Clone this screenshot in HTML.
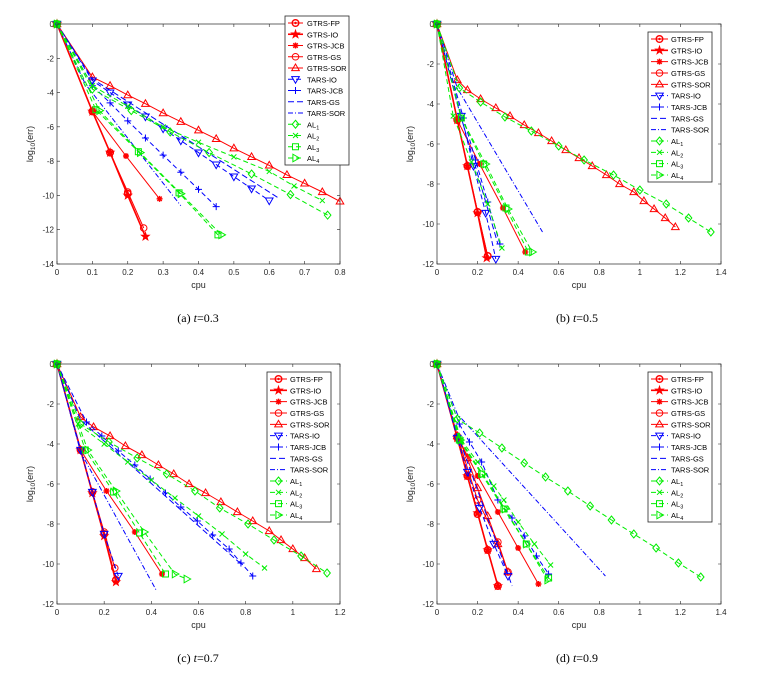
<!DOCTYPE html>
<html><head><meta charset="utf-8">
<style>
html,body{margin:0;padding:0;background:#fff;}
svg{display:block;font-family:"Liberation Sans",sans-serif;}
</style></head>
<body>
<svg id="fig" width="770" height="675" viewBox="0 0 770 675" xmlns="http://www.w3.org/2000/svg"></svg>
<script>
// ---------- Data (cpu, log10(err)) ----------
const a_fp=[[0,0],[0.1,-5.1],[0.15,-7.5],[0.2,-9.9]];
const a_io=[[0,0],[0.1,-5.1],[0.15,-7.5],[0.2,-10],[0.25,-12.4]];
const a_jcb=[[0,0],[0.1,-5.1],[0.195,-7.7],[0.29,-10.2]];
const a_gs=[[0,0],[0.1,-5.1],[0.15,-7.5],[0.2,-9.8],[0.245,-11.9]];
const a_sor=[[0,0],[0.1,-3.1],[0.15,-3.6],[0.2,-4.15],[0.25,-4.65],[0.3,-5.2],[0.35,-5.7],[0.4,-6.2],[0.45,-6.7],[0.5,-7.25],[0.55,-7.75],[0.6,-8.25],[0.65,-8.8],[0.7,-9.3],[0.75,-9.8],[0.8,-10.35]];
const a_tio=[[0,0],[0.1,-3.3],[0.15,-4.0],[0.2,-4.7],[0.25,-5.4],[0.3,-6.1],[0.35,-6.8],[0.4,-7.5],[0.45,-8.2],[0.5,-8.9],[0.55,-9.6],[0.6,-10.3]];
const a_tjcb=[[0,0],[0.1,-3.6],[0.15,-4.6],[0.2,-5.65],[0.25,-6.65],[0.3,-7.65],[0.35,-8.65],[0.4,-9.65],[0.45,-10.65]];
const a_tgs=[[0,0],[0.1,-3.2],[0.63,-10.2]];
const a_tsor=[[0,0],[0.08,-3.5],[0.35,-10.6]];
const a_al1=[[0,0],[0.1,-3.8],[0.21,-5.05],[0.32,-6.3],[0.43,-7.5],[0.55,-8.75],[0.66,-9.95],[0.765,-11.15]];
const a_al2=[[0,0],[0.1,-3.6],[0.2,-4.8],[0.3,-6.0],[0.4,-6.9],[0.5,-7.75],[0.6,-8.6],[0.67,-9.45],[0.75,-10.3]];
const a_al3=[[0,0],[0.11,-5.0],[0.23,-7.45],[0.345,-9.85],[0.455,-12.3]];
const a_al4=[[0,0],[0.12,-5.05],[0.235,-7.5],[0.35,-9.9],[0.465,-12.3]];

const b_fp=[[0,0],[0.1,-4.8],[0.15,-7.1],[0.2,-9.4],[0.25,-11.6]];
const b_io=[[0,0],[0.1,-4.8],[0.15,-7.1],[0.2,-9.45],[0.245,-11.7]];
const b_jcb=[[0,0],[0.1,-4.8],[0.21,-7.0],[0.325,-9.2],[0.435,-11.4]];
const b_gs=[[0,0],[0.1,-4.8],[0.15,-7.1],[0.2,-9.4],[0.25,-11.6]];
const b_sor=[[0,0],[0.1,-2.8],[0.15,-3.3],[0.215,-3.75],[0.29,-4.2],[0.36,-4.6],[0.43,-5.05],[0.5,-5.45],[0.565,-5.85],[0.635,-6.3],[0.7,-6.7],[0.765,-7.1],[0.835,-7.55],[0.9,-8.0],[0.97,-8.4],[1.02,-8.85],[1.07,-9.25],[1.125,-9.7],[1.175,-10.15]];
const b_tio=[[0,0],[0.12,-4.6],[0.18,-7.1],[0.24,-9.45],[0.29,-11.75]];
const b_tjcb=[[0,0],[0.13,-4.7],[0.19,-6.8],[0.25,-8.9],[0.31,-11.0]];
const b_tgs=[[0,0],[0.1,-4.0],[0.3,-11.0]];
const b_tsor=[[0,0],[0.1,-3.2],[0.52,-10.4]];
const b_al1=[[0,0],[0.11,-3.2],[0.215,-3.9],[0.335,-4.65],[0.465,-5.35],[0.6,-6.1],[0.725,-6.8],[0.87,-7.55],[1.0,-8.3],[1.13,-9.0],[1.24,-9.7],[1.35,-10.4]];
const b_al2=[[0,0],[0.08,-4.6],[0.17,-6.9],[0.25,-9.0],[0.32,-11.2]];
const b_al3=[[0,0],[0.12,-4.7],[0.23,-7.0],[0.34,-9.2],[0.45,-11.4]];
const b_al4=[[0,0],[0.12,-4.7],[0.24,-7.0],[0.35,-9.25],[0.47,-11.4]];

const c_fp=[[0,0],[0.1,-4.3],[0.15,-6.4],[0.2,-8.5],[0.25,-10.8]];
const c_io=[[0,0],[0.1,-4.3],[0.15,-6.45],[0.2,-8.6],[0.25,-10.9]];
const c_jcb=[[0,0],[0.1,-4.3],[0.21,-6.35],[0.33,-8.4],[0.445,-10.5]];
const c_gs=[[0,0],[0.1,-4.3],[0.15,-6.4],[0.2,-8.4],[0.245,-10.2]];
const c_sor=[[0,0],[0.1,-2.65],[0.155,-3.15],[0.225,-3.6],[0.29,-4.1],[0.36,-4.55],[0.43,-5.05],[0.495,-5.5],[0.56,-6.0],[0.63,-6.45],[0.695,-6.9],[0.765,-7.4],[0.83,-7.85],[0.9,-8.35],[0.95,-8.8],[1.0,-9.25],[1.05,-9.7],[1.1,-10.25]];
const c_tio=[[0,0],[0.1,-4.3],[0.15,-6.4],[0.2,-8.5],[0.26,-10.6]];
const c_tjcb=[[0,0],[0.125,-2.9],[0.19,-3.6],[0.26,-4.35],[0.33,-5.05],[0.395,-5.75],[0.46,-6.45],[0.525,-7.15],[0.595,-7.85],[0.66,-8.55],[0.73,-9.25],[0.78,-9.95],[0.83,-10.6]];
const c_tgs=[[0,0],[0.1,-2.8],[0.78,-10.0]];
const c_tsor=[[0,0],[0.1,-4.4],[0.42,-11.3]];
const c_al1=[[0,0],[0.1,-3.0],[0.22,-3.9],[0.34,-4.7],[0.465,-5.5],[0.585,-6.35],[0.69,-7.2],[0.81,-8.0],[0.92,-8.8],[1.035,-9.6],[1.145,-10.45]];
const c_al2=[[0,0],[0.09,-3.0],[0.2,-4.0],[0.3,-4.9],[0.4,-5.8],[0.5,-6.7],[0.6,-7.6],[0.7,-8.5],[0.8,-9.5],[0.88,-10.2]];
const c_al3=[[0,0],[0.12,-4.3],[0.24,-6.4],[0.35,-8.45],[0.46,-10.5]];
const c_al4=[[0,0],[0.13,-4.3],[0.25,-6.35],[0.37,-8.4],[0.5,-10.5],[0.55,-10.75]];

const d_fp=[[0,0],[0.1,-3.7],[0.15,-5.6],[0.2,-7.5],[0.25,-9.3],[0.3,-11.1]];
const d_io=[[0,0],[0.1,-3.7],[0.15,-5.6],[0.2,-7.45],[0.25,-9.3],[0.3,-11.1]];
const d_jcb=[[0,0],[0.1,-3.6],[0.2,-5.6],[0.3,-7.4],[0.4,-9.2],[0.5,-11.0]];
const d_gs=[[0,0],[0.1,-3.6],[0.2,-6.8],[0.3,-8.9],[0.35,-10.4]];
const d_sor=[[0,0],[0.1,-3.6],[0.15,-4.7],[0.2,-6.2],[0.25,-7.6],[0.3,-9.0],[0.35,-10.4]];
const d_tio=[[0,0],[0.1,-3.7],[0.15,-5.4],[0.21,-7.2],[0.28,-9.0],[0.35,-10.6]];
const d_tjcb=[[0,0],[0.11,-3.0],[0.16,-3.9],[0.22,-4.9],[0.3,-6.8],[0.37,-7.7],[0.43,-8.6],[0.49,-9.6],[0.55,-10.5]];
const d_tgs=[[0,0],[0.1,-3.5],[0.37,-11.1]];
const d_tsor=[[0,0],[0.1,-2.5],[0.83,-10.6]];
const d_al1=[[0,0],[0.1,-2.75],[0.21,-3.45],[0.32,-4.2],[0.43,-4.95],[0.535,-5.65],[0.645,-6.35],[0.755,-7.1],[0.86,-7.8],[0.97,-8.5],[1.08,-9.2],[1.19,-9.95],[1.3,-10.65]];
const d_al2=[[0,0],[0.12,-3.8],[0.2,-4.9],[0.28,-6.1],[0.33,-6.8],[0.4,-7.9],[0.48,-9.0],[0.56,-10.05]];
const d_al3=[[0,0],[0.11,-3.8],[0.22,-5.5],[0.33,-7.25],[0.44,-9.0],[0.55,-10.7]];
const d_al4=[[0,0],[0.115,-3.8],[0.225,-5.5],[0.335,-7.25],[0.44,-9.0],[0.545,-10.8]];

const seriesNames=["GTRS-FP","GTRS-IO","GTRS-JCB","GTRS-GS","GTRS-SOR","TARS-IO","TARS-JCB","TARS-GS","TARS-SOR","AL1","AL2","AL3","AL4"];
const xTicksA=[0,0.1,0.2,0.3,0.4,0.5,0.6,0.7,0.8];
const yTicksA=[0,-2,-4,-6,-8,-10,-12,-14];
const xTicksB=[0,0.2,0.4,0.6,0.8,1,1.2,1.4];
const xTicksC=[0,0.2,0.4,0.6,0.8,1,1.2];
const yTicks12=[0,-2,-4,-6,-8,-10,-12];

// ---------- styles ----------
const styles=[
 {c:"#ff0000",d:"",m:"hex",w:1},
 {c:"#ff0000",d:"",m:"star",w:1.6},
 {c:"#ff0000",d:"",m:"ast",w:1},
 {c:"#ff0000",d:"",m:"circ",w:1},
 {c:"#ff0000",d:"",m:"tri",w:1},
 {c:"#0000ff",d:"5,3",m:"vtri",w:1},
 {c:"#0000ff",d:"5,3",m:"plus",w:1},
 {c:"#0000ff",d:"6,3",m:"",w:1},
 {c:"#0000ff",d:"5,2,1,2",m:"",w:1},
 {c:"#00ee00",d:"5,3",m:"diam",w:1},
 {c:"#00ee00",d:"5,3",m:"x",w:1},
 {c:"#00ee00",d:"5,3",m:"sq",w:1},
 {c:"#00ee00",d:"5,3",m:"rtri",w:1}
];

const NS="http://www.w3.org/2000/svg";
const fig=document.getElementById("fig");
function el(tag,attrs,parent){const e=document.createElementNS(NS,tag);for(const k in attrs)e.setAttribute(k,attrs[k]);(parent||fig).appendChild(e);return e;}

function marker(g,type,x,y,c){
  const s=3.3;let e=null;
  if(type==="circ") e=el("circle",{cx:x,cy:y,r:s,fill:"none",stroke:c},g);
  else if(type==="hex"){e=el("circle",{cx:x,cy:y,r:s,fill:"none",stroke:c,"stroke-width":1.4},g);el("circle",{cx:x,cy:y,r:1.2,fill:c},g);}
  else if(type==="star"){let p=[];for(let i=0;i<10;i++){const r=i%2?1.6:4;const a=-Math.PI/2+i*Math.PI/5;p.push((x+r*Math.cos(a)).toFixed(1)+","+(y+r*Math.sin(a)).toFixed(1));}e=el("polygon",{points:p.join(" "),fill:c,stroke:c},g);}
  else if(type==="ast"){e=el("path",{d:`M${x-3},${y}H${x+3}M${x},${y-3}V${y+3}M${x-2.2},${y-2.2}L${x+2.2},${y+2.2}M${x-2.2},${y+2.2}L${x+2.2},${y-2.2}`,stroke:c,"stroke-width":1.4},g);}
  else if(type==="tri") e=el("polygon",{points:`${x},${y-4} ${x-3.8},${y+2.6} ${x+3.8},${y+2.6}`,fill:"none",stroke:c},g);
  else if(type==="vtri") e=el("polygon",{points:`${x},${y+4} ${x-3.8},${y-2.6} ${x+3.8},${y-2.6}`,fill:"none",stroke:c},g);
  else if(type==="rtri") e=el("polygon",{points:`${x+4},${y} ${x-2.6},${y-3.8} ${x-2.6},${y+3.8}`,fill:"none",stroke:c},g);
  else if(type==="plus") e=el("path",{d:`M${x-3.5},${y}H${x+3.5}M${x},${y-3.5}V${y+3.5}`,stroke:c},g);
  else if(type==="x") e=el("path",{d:`M${x-2.5},${y-2.5}L${x+2.5},${y+2.5}M${x-2.5},${y+2.5}L${x+2.5},${y-2.5}`,stroke:c},g);
  else if(type==="diam") e=el("polygon",{points:`${x},${y-4} ${x+3.3},${y} ${x},${y+4} ${x-3.3},${y}`,fill:"none",stroke:c},g);
  else if(type==="sq") e=el("rect",{x:x-3,y:y-3,width:6,height:6,fill:"none",stroke:c},g);
  return e;
}

function fmt(v){return String(v);}

function panel(id,box,xmax,ymin,xt,yt,data,leg,cap,capX,capY){
  const [L,T,R,B]=box;
  const g=el("g",{});
  
  
  const px=x=>L+x/xmax*(R-L), py=y=>T+y/ymin*(B-T);
  el("rect",{x:L,y:T,width:R-L,height:B-T,fill:"#fff",stroke:"none"},g);
  // ticks
  xt.forEach(v=>{const x=px(v);el("path",{d:`M${x},${B}v-3M${x},${T}v3`,stroke:"#262626","stroke-width":0.6},g);
    const t=el("text",{x:x,y:B+11,"font-size":8,"text-anchor":"middle",fill:"#262626"},g);t.textContent=fmt(v);
    });
  yt.forEach(v=>{const y=py(v);el("path",{d:`M${L},${y}h3M${R},${y}h-3`,stroke:"#262626","stroke-width":0.6},g);
    const t=el("text",{x:L-3,y:y+3,"font-size":8,"text-anchor":"end",fill:"#262626"},g);t.textContent=fmt(v);
    });
  // series
  data.forEach((pts,i)=>{
    const st=styles[i];
    const sg=el("g",{},g);
    
    
    const p=el("polyline",{points:pts.map(q=>px(q[0]).toFixed(1)+","+py(q[1]).toFixed(1)).join(" "),fill:"none",stroke:st.c,"stroke-width":st.w,"stroke-dasharray":st.d},sg);
    if(st.m) pts.forEach(q=>{marker(sg,st.m,px(q[0]),py(q[1]),st.c);});
  });
  el("rect",{x:L,y:T,width:R-L,height:B-T,fill:"none",stroke:"#262626","stroke-width":0.7},g);
  // axis labels
  const xl=el("text",{x:(L+R)/2,y:B+24,"font-size":9,"text-anchor":"middle",fill:"#262626"},g);xl.textContent="cpu";
  
  const yl=el("text",{x:0,y:0,"font-size":9,"text-anchor":"middle",fill:"#262626",transform:`translate(${L-24},${(T+B)/2}) rotate(-90)`},g);
  yl.innerHTML='log<tspan font-size="6.5" dy="2">10</tspan><tspan dy="-2">(err)</tspan>';
  
  // legend
  const [lx,ly,lw,lh,lineX0,lineX1,textX]=leg;
  const lg=el("g",{},g);
  
  el("rect",{x:lx,y:ly,width:lw,height:lh,fill:"#fff",stroke:"#262626","stroke-width":0.8},lg);
  const step=(lh-14)/12;
  seriesNames.forEach((n,i)=>{
    const st=styles[i];const y=ly+7+i*step;
    const e=el("g",{},lg);
    
    el("line",{x1:lineX0,y1:y,x2:lineX1,y2:y,stroke:st.c,"stroke-width":st.w,"stroke-dasharray":st.d},e);
    if(st.m) marker(e,st.m,(lineX0+lineX1)/2,y,st.c);
    const t=el("text",{x:textX,y:y+3,"font-size":7.5,fill:"#000"},e);
    if(n.startsWith("AL")) t.innerHTML='AL<tspan font-size="5.5" dy="2">'+n.slice(2)+'</tspan>';
    else t.textContent=n;
  });
  // caption
  const c=el("text",{x:capX,y:capY,"font-size":12,"text-anchor":"middle","font-family":"Liberation Serif, serif",fill:"#000"},fig);
  c.innerHTML=cap[0]+'  <tspan font-style="italic">t</tspan>='+cap[1];
  
}

panel("a",[57,24,340,264],0.8,-14,xTicksA,yTicksA,
 [a_fp,a_io,a_jcb,a_gs,a_sor,a_tio,a_tjcb,a_tgs,a_tsor,a_al1,a_al2,a_al3,a_al4],
 [285,16,64,149,288,303,307],["(a)","0.3"],198,322);
panel("b",[437,24,721,264],1.4,-12,xTicksB,yTicks12,
 [b_fp,b_io,b_jcb,b_gs,b_sor,b_tio,b_tjcb,b_tgs,b_tsor,b_al1,b_al2,b_al3,b_al4],
 [648,32,64,150,651,668,671],["(b)","0.5"],577,322);
panel("c",[57,364,340,604],1.2,-12,xTicksC,yTicks12,
 [c_fp,c_io,c_jcb,c_gs,c_sor,c_tio,c_tjcb,c_tgs,c_tsor,c_al1,c_al2,c_al3,c_al4],
 [267,372,64,150,270,287,290],["(c)","0.7"],198,662);
panel("d",[437,364,721,604],1.4,-12,xTicksB,yTicks12,
 [d_fp,d_io,d_jcb,d_gs,d_sor,d_tio,d_tjcb,d_tgs,d_tsor,d_al1,d_al2,d_al3,d_al4],
 [648,372,64,150,651,668,671],["(d)","0.9"],577,662);
</script>
</body></html>
